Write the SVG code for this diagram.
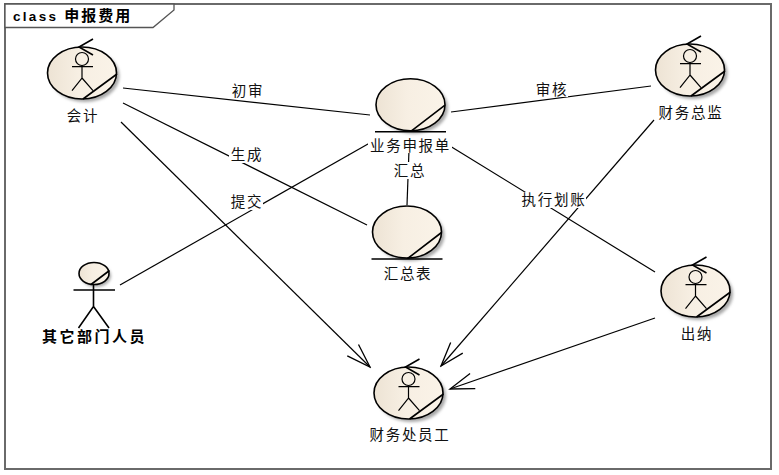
<svg xmlns="http://www.w3.org/2000/svg" xmlns:xlink="http://www.w3.org/1999/xlink" width="779" height="475" viewBox="0 0 779 475">
<style>
.ln{stroke:#000;stroke-width:1.2;fill:none}
.ol{stroke:#000;stroke-width:1.6;fill:url(#g)}
.thick{stroke:#000;stroke-width:1.6;fill:none}
.sh{fill:#a8a8a8;filter:url(#b)}
.lb{font-family:"Noto Sans CJK SC","Liberation Sans",sans-serif;font-size:14.500px;letter-spacing:1.700px;text-anchor:middle;fill:#111}
.lbg{fill:#fff}
.bd{font-weight:700;fill:#000;font-size:15px;letter-spacing:2.500px}
</style>
<defs>
<linearGradient id="g" x1="0" x2="1" y1="0" y2="0"><stop offset="0" stop-color="#ede3d4"/><stop offset=".45" stop-color="#f7efe3"/><stop offset="1" stop-color="#faf3e8"/></linearGradient>
<filter id="b" x="-20%" y="-20%" width="140%" height="140%"><feGaussianBlur stdDeviation="1.4"/></filter>
<marker id="arr" viewBox="0 0 30 30" refX="28" refY="15" markerWidth="30" markerHeight="30" markerUnits="userSpaceOnUse" orient="auto"><path d="M4 7L28 15L4 23" fill="none" stroke="#000" stroke-width="1.3"/></marker>
<g id="bound">
<ellipse class="sh" cx="3" cy="3" rx="34.500" ry="26"/>
<ellipse class="ol" rx="34.500" ry="26"/>
<path class="thick" d="M11-34L-3-26L11-18M1 26L35 1"/>
</g>
<g id="stick">
<circle class="ln" cy="-14" r="6.500"/>
<path class="ln" d="M-10-6.300H11M0-7.500V5L-10 17.700M0 5L11 17.700"/>
</g>
<g id="ent">
<ellipse class="sh" cx="3" cy="3" rx="34.500" ry="26"/>
<ellipse class="ol" rx="34.500" ry="26"/>
<path class="thick" d="M-35.500 27H35.500M0 27L34.500 0.500"/>
</g>
</defs>
<rect width="779" height="475" fill="#fff"/>
<g id="frame">
<rect x="5" y="4" width="766" height="465" fill="#fff" stroke="#6a6a6a" stroke-width="2"/>
<path d="M5 4H174V10L153 27.500H5Z" fill="#fff" stroke="#555" stroke-width="1.300"/>
<text x="13" y="21" style="font-family:'Liberation Sans','Noto Sans CJK SC',sans-serif;font-size:13.500px;font-weight:700;letter-spacing:2.300px" fill="#000">class <tspan style="font-family:'Noto Sans CJK SC',sans-serif;font-size:15px;letter-spacing:2px">申报费用</tspan></text>
</g>
<g id="connectors">
<path class="ln" d="M123 88L370 115"/>
<path class="ln" d="M451 112L651 86"/>
<path class="ln" d="M123 103L367 225"/>
<path class="ln" d="M120 285L375 140"/>
<path class="ln" d="M450 146L655 272"/>
<path class="ln" d="M409 150L407 205"/>
<path class="ln" marker-end="url(#arr)" d="M121 122L370 367"/>
<path class="ln" marker-end="url(#arr)" d="M654 120L441 366"/>
<path class="ln" marker-end="url(#arr)" d="M655 318L450 389"/>
<rect class="lbg" x="230" y="83" width="34" height="16"/><text class="lb" x="248" y="96">初审</text>
<rect class="lbg" x="534" y="82" width="34" height="15"/><text class="lb" x="552" y="95">审核</text>
<rect class="lbg" x="229" y="147" width="34" height="16"/><text class="lb" x="247" y="160">生成</text>
<rect class="lbg" x="229" y="194" width="34" height="16"/><text class="lb" x="247" y="207">提交</text>
<rect class="lbg" x="392" y="162" width="34" height="17"/><text class="lb" x="410" y="176">汇总</text>
<rect class="lbg" x="520" y="192" width="66" height="16"/><text class="lb" x="554" y="205">执行划账</text>
</g>
<g id="node-kuaiji"><use xlink:href="#bound" x="82" y="73"/><use xlink:href="#stick" x="82" y="73"/><text class="lb" x="83" y="121">会计</text></g>
<g id="node-zongjian"><use xlink:href="#bound" x="690" y="70"/><use xlink:href="#stick" x="690" y="70"/><text class="lb" x="691" y="118">财务总监</text></g>
<g id="node-chuna"><use xlink:href="#bound" x="695.500" y="291"/><use xlink:href="#stick" x="695.500" y="291"/><text class="lb" x="697" y="339">出纳</text></g>
<g id="node-yuangong"><use xlink:href="#bound" x="408.500" y="393"/><use xlink:href="#stick" x="408.500" y="393"/><text class="lb" x="410" y="440">财务处员工</text></g>
<g id="node-shenbaodan"><use xlink:href="#ent" x="410.500" y="104.700"/><rect class="lbg" x="368" y="137" width="84" height="16"/><text class="lb" x="410.500" y="151">业务申报单</text></g>
<g id="node-huizongbiao"><use xlink:href="#ent" x="407" y="232"/><text class="lb" x="408" y="279">汇总表</text></g>
<g id="node-qita">
<ellipse class="sh" cx="96" cy="276" rx="15" ry="11"/>
<ellipse class="ol" cx="94" cy="273.500" rx="15" ry="11"/>
<path class="thick" d="M91 284.500L109.500 270.500M73.500 290H115M93.500 285V306.500L78.500 328M93.500 306.500L109 328"/>
<text class="lb bd" x="94.500" y="342">其它部门人员</text>
</g>
</svg>
